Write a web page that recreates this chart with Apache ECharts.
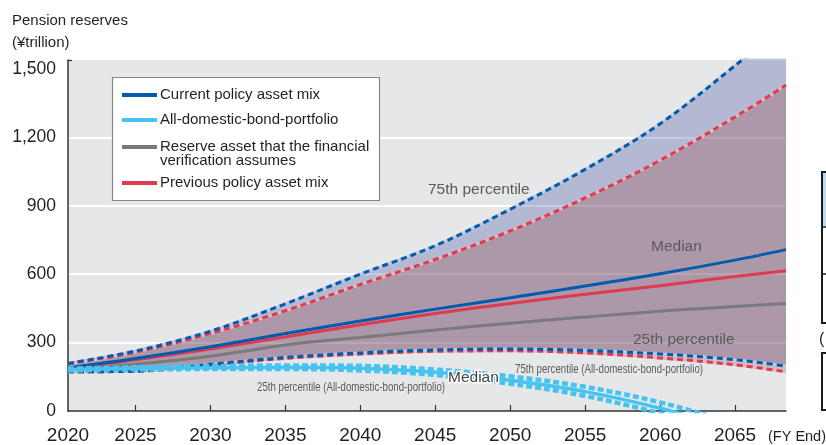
<!DOCTYPE html>
<html>
<head>
<meta charset="utf-8">
<script src="https://cdn.jsdelivr.net/npm/echarts@6/dist/echarts.min.js"></script>
<style>
  html, body { margin: 0; padding: 0; background: #fff; }
  #chart { width: 826px; height: 445px; }
</style>
</head>
<body>
<div id="chart"></div>
<script>
// fiscal-year positions of the sampled points (first/last = plot edges)
const years = [2020.5, 2025, 2030, 2035, 2040, 2045, 2050, 2055, 2060, 2065, 2068.4];

// pension reserves, ¥ trillion
const currentMedian = [189, 230, 282, 340, 395, 447, 497, 548, 602, 662, 708];
const currentP75    = [209, 263, 350, 470, 600, 725, 885, 1060, 1260, 1515, 1700];
const currentP25    = [172, 175, 205, 235, 255, 268, 272, 266, 250, 225, 197];
const previousMedian = [188, 225, 272, 325, 378, 428, 472, 512, 550, 590, 615];
const previousP75    = [207, 258, 340, 440, 555, 665, 790, 935, 1100, 1290, 1430];
const previousP25    = [172, 174, 202, 231, 250, 262, 264, 255, 233, 203, 172];
const reserveAssumed = [185, 205, 240, 290, 322, 355, 385, 412, 438, 458, 472];
const bondMedian = [182, 187, 190, 192, 188, 170, 135, 85, 12, -80, -140];
const bondP75    = [186, 192, 197, 200, 198, 182, 152, 106, 38, -55, -120];
const bondP25    = [178, 182, 184, 184, 178, 158, 120, 66, -10, -100, -160];

const xLabels = [2020.5, 2025, 2030, 2035, 2040, 2045, 2050, 2055, 2060, 2065];
const xTicks = [2025, 2030, 2035, 2040, 2045, 2050, 2055, 2060, 2065];
const yLabels = [0, 300, 600, 900, 1200, 1500];
const yGrid = [300, 600, 900, 1200];

const BLUE = '#005bac', RED = '#e03a50', GRAY = '#7a7a7a', LIGHT = '#46c3ee';
const FONT = '"Liberation Sans", Arial, Helvetica, sans-serif';

const pair = ys => years.map((x, i) => [x, ys[i]]);

// stacked bands: value first so the stack runs on y, x read through encode
function band(stack, lo, hi, fill, edge) {
  const common = { type: 'line', stack, smooth: 0.35, symbol: 'none', silent: true,
    encode: { x: 1, y: 0 }, lineStyle: { color: edge, width: 3 } };
  return [
    Object.assign({ data: years.map((x, i) => [lo[i], x]) }, common),
    Object.assign({ data: years.map((x, i) => [hi[i] - lo[i], x]),
      areaStyle: { color: fill, opacity: 1 } }, common)
  ];
}
function line(name, ys, color, width, dash) {
  return { type: 'line', name, data: pair(ys), smooth: 0.35, symbol: 'none', silent: true,
    lineStyle: { color, width, type: dash || 'solid' } };
}

function txt(text, x, y, size, color, extra) {
  const st = { text, fill: color, font: size + 'px ' + FONT,
    align: 'left', verticalAlign: 'middle', textAlign: 'left', textVerticalAlign: 'middle' };
  return Object.assign({ type: 'text', x, y, z: 100, silent: true, style: st }, extra || {});
}
const ctx = document.createElement('canvas').getContext('2d');
function squeezed(text, x, y, size, target) {
  ctx.font = size + 'px ' + FONT;
  const s = target / ctx.measureText(text).width;
  return txt(text, x, y, size, '#5a5a5a', { scaleX: s });
}

const legendRows = [
  { color: BLUE, y: 95, lines: ['Current policy asset mix'] },
  { color: LIGHT, y: 120, lines: ['All-domestic-bond-portfolio'] },
  { color: GRAY, y: 147, lines: ['Reserve asset that the financial', 'verification assumes'] },
  { color: RED, y: 183, lines: ['Previous policy asset mix'] }
];
const legendEls = [{ type: 'rect', z: 100, shape: { x: 112.5, y: 77.5, width: 267, height: 123 },
  style: { fill: '#fff', stroke: '#858585', lineWidth: 1.2 }, silent: true }];
legendRows.forEach(r => {
  legendEls.push({ type: 'line', z: 101, shape: { x1: 122, y1: r.y, x2: 157, y2: r.y },
    style: { stroke: r.color, lineWidth: 4 }, silent: true });
  r.lines.forEach((t, k) => legendEls.push(txt(t, 160, r.y + k * 13.5, 15, '#231f20', { z: 101 })));
});

const chart = echarts.init(document.getElementById('chart'), null, { renderer: 'canvas' });
chart.setOption({
  animation: false,
  textStyle: { fontFamily: FONT },
  grid: { left: 68, right: 40, top: 60, bottom: 34, show: true,
    backgroundColor: '#e6e7e8', borderWidth: 0 },
  xAxis: {
    type: 'value', min: 2020.5, max: 2068.4,
    axisLine: { show: true, lineStyle: { color: '#333', width: 1.5 } },
    axisTick: { show: true, inside: true, length: 6, customValues: xTicks,
      lineStyle: { color: '#333', width: 1.2 } },
    axisLabel: { customValues: xLabels, formatter: v => String(Math.floor(v)),
      fontSize: 19, color: '#231f20', margin: 15 },
    splitLine: { show: false }
  },
  yAxis: {
    type: 'value', min: 0, max: 1540,
    axisLine: { show: true, lineStyle: { color: '#333', width: 1.5 } },
    axisTick: { show: false, customValues: yGrid },
    axisLabel: { customValues: yLabels, fontSize: 17.5, color: '#231f20', margin: 12,
      formatter: v => v.toLocaleString('en-US') },
    splitLine: { show: true, lineStyle: { color: '#ffffff', width: 2 } }
  },
  series: [
    ...band('cur', currentP25, currentP75, 'rgba(48,67,157,0.28)', '#c3c8de'),
    ...band('prev', previousP25, previousP75, 'rgba(150,55,40,0.25)', '#d6bcc4'),
    line('Previous policy asset mix 75th', previousP75, RED, 3, [6, 4]),
    line('Current policy asset mix 75th', currentP75, BLUE, 3, [6, 4]),
    line('Previous policy asset mix 25th', previousP25, RED, 3, [6, 4]),
    line('Current policy asset mix 25th', currentP25, BLUE, 3, [6, 4]),
    line('Reserve asset that the financial verification assumes', reserveAssumed, GRAY, 3),
    line('Previous policy asset mix', previousMedian, RED, 3),
    line('Current policy asset mix', currentMedian, BLUE, 3),
    line('All-domestic-bond-portfolio 25th', bondP25, LIGHT, 4.5, [6, 3]),
    line('All-domestic-bond-portfolio 75th', bondP75, LIGHT, 4.5, [6, 3]),
    line('All-domestic-bond-portfolio', bondMedian, LIGHT, 3.5)
  ],
  graphic: { elements: [
    { type: 'line', z: 100, shape: { x1: 68, y1: 60.5, x2: 72, y2: 60.5 },
      style: { stroke: '#333', lineWidth: 1.2 }, silent: true },
    txt('Pension reserves', 12, 21, 15, '#231f20'),
    txt('(¥trillion)', 12, 43, 15, '#231f20'),
    txt('(FY End)', 768, 437, 14.5, '#231f20'),
    { type: 'group', children: legendEls },
    txt('75th percentile', 428, 190, 15.5, '#5a5a5a'),
    txt('Median', 651, 247, 15.5, '#5a5a5a'),
    txt('25th percentile', 633, 340, 15.5, '#5a5a5a'),
    txt('Median', 448, 378, 15.5, '#444', { style: { text: 'Median', fill: '#444',
      font: '15.5px ' + FONT, align: 'left', verticalAlign: 'middle', textAlign: 'left',
      textVerticalAlign: 'middle', stroke: '#fff', lineWidth: 3 } }),
    squeezed('25th percentile (All-domestic-bond-portfolio)', 257, 387, 13.5, 188),
    squeezed('75th percentile (All-domestic-bond-portfolio)', 515, 369, 13.5, 188),
    // fragments of the neighbouring panel at the right edge
    { type: 'rect', shape: { x: 823, y: 172, width: 10, height: 54 }, style: { fill: '#b7def2' }, silent: true },
    { type: 'rect', shape: { x: 822, y: 172, width: 20, height: 151 },
      style: { fill: 'none', stroke: '#1a1a1a', lineWidth: 2 }, silent: true },
    { type: 'line', shape: { x1: 822, y1: 227, x2: 830, y2: 227 }, style: { stroke: '#1a1a1a', lineWidth: 1.5 }, silent: true },
    { type: 'line', shape: { x1: 822, y1: 274, x2: 830, y2: 274 }, style: { stroke: '#1a1a1a', lineWidth: 1.5 }, silent: true },
    txt('(', 819, 340, 16, '#231f20'),
    { type: 'rect', shape: { x: 822, y: 353, width: 20, height: 57 },
      style: { fill: 'none', stroke: '#1a1a1a', lineWidth: 2 }, silent: true }
  ] }
});
</script>
</body>
</html>
